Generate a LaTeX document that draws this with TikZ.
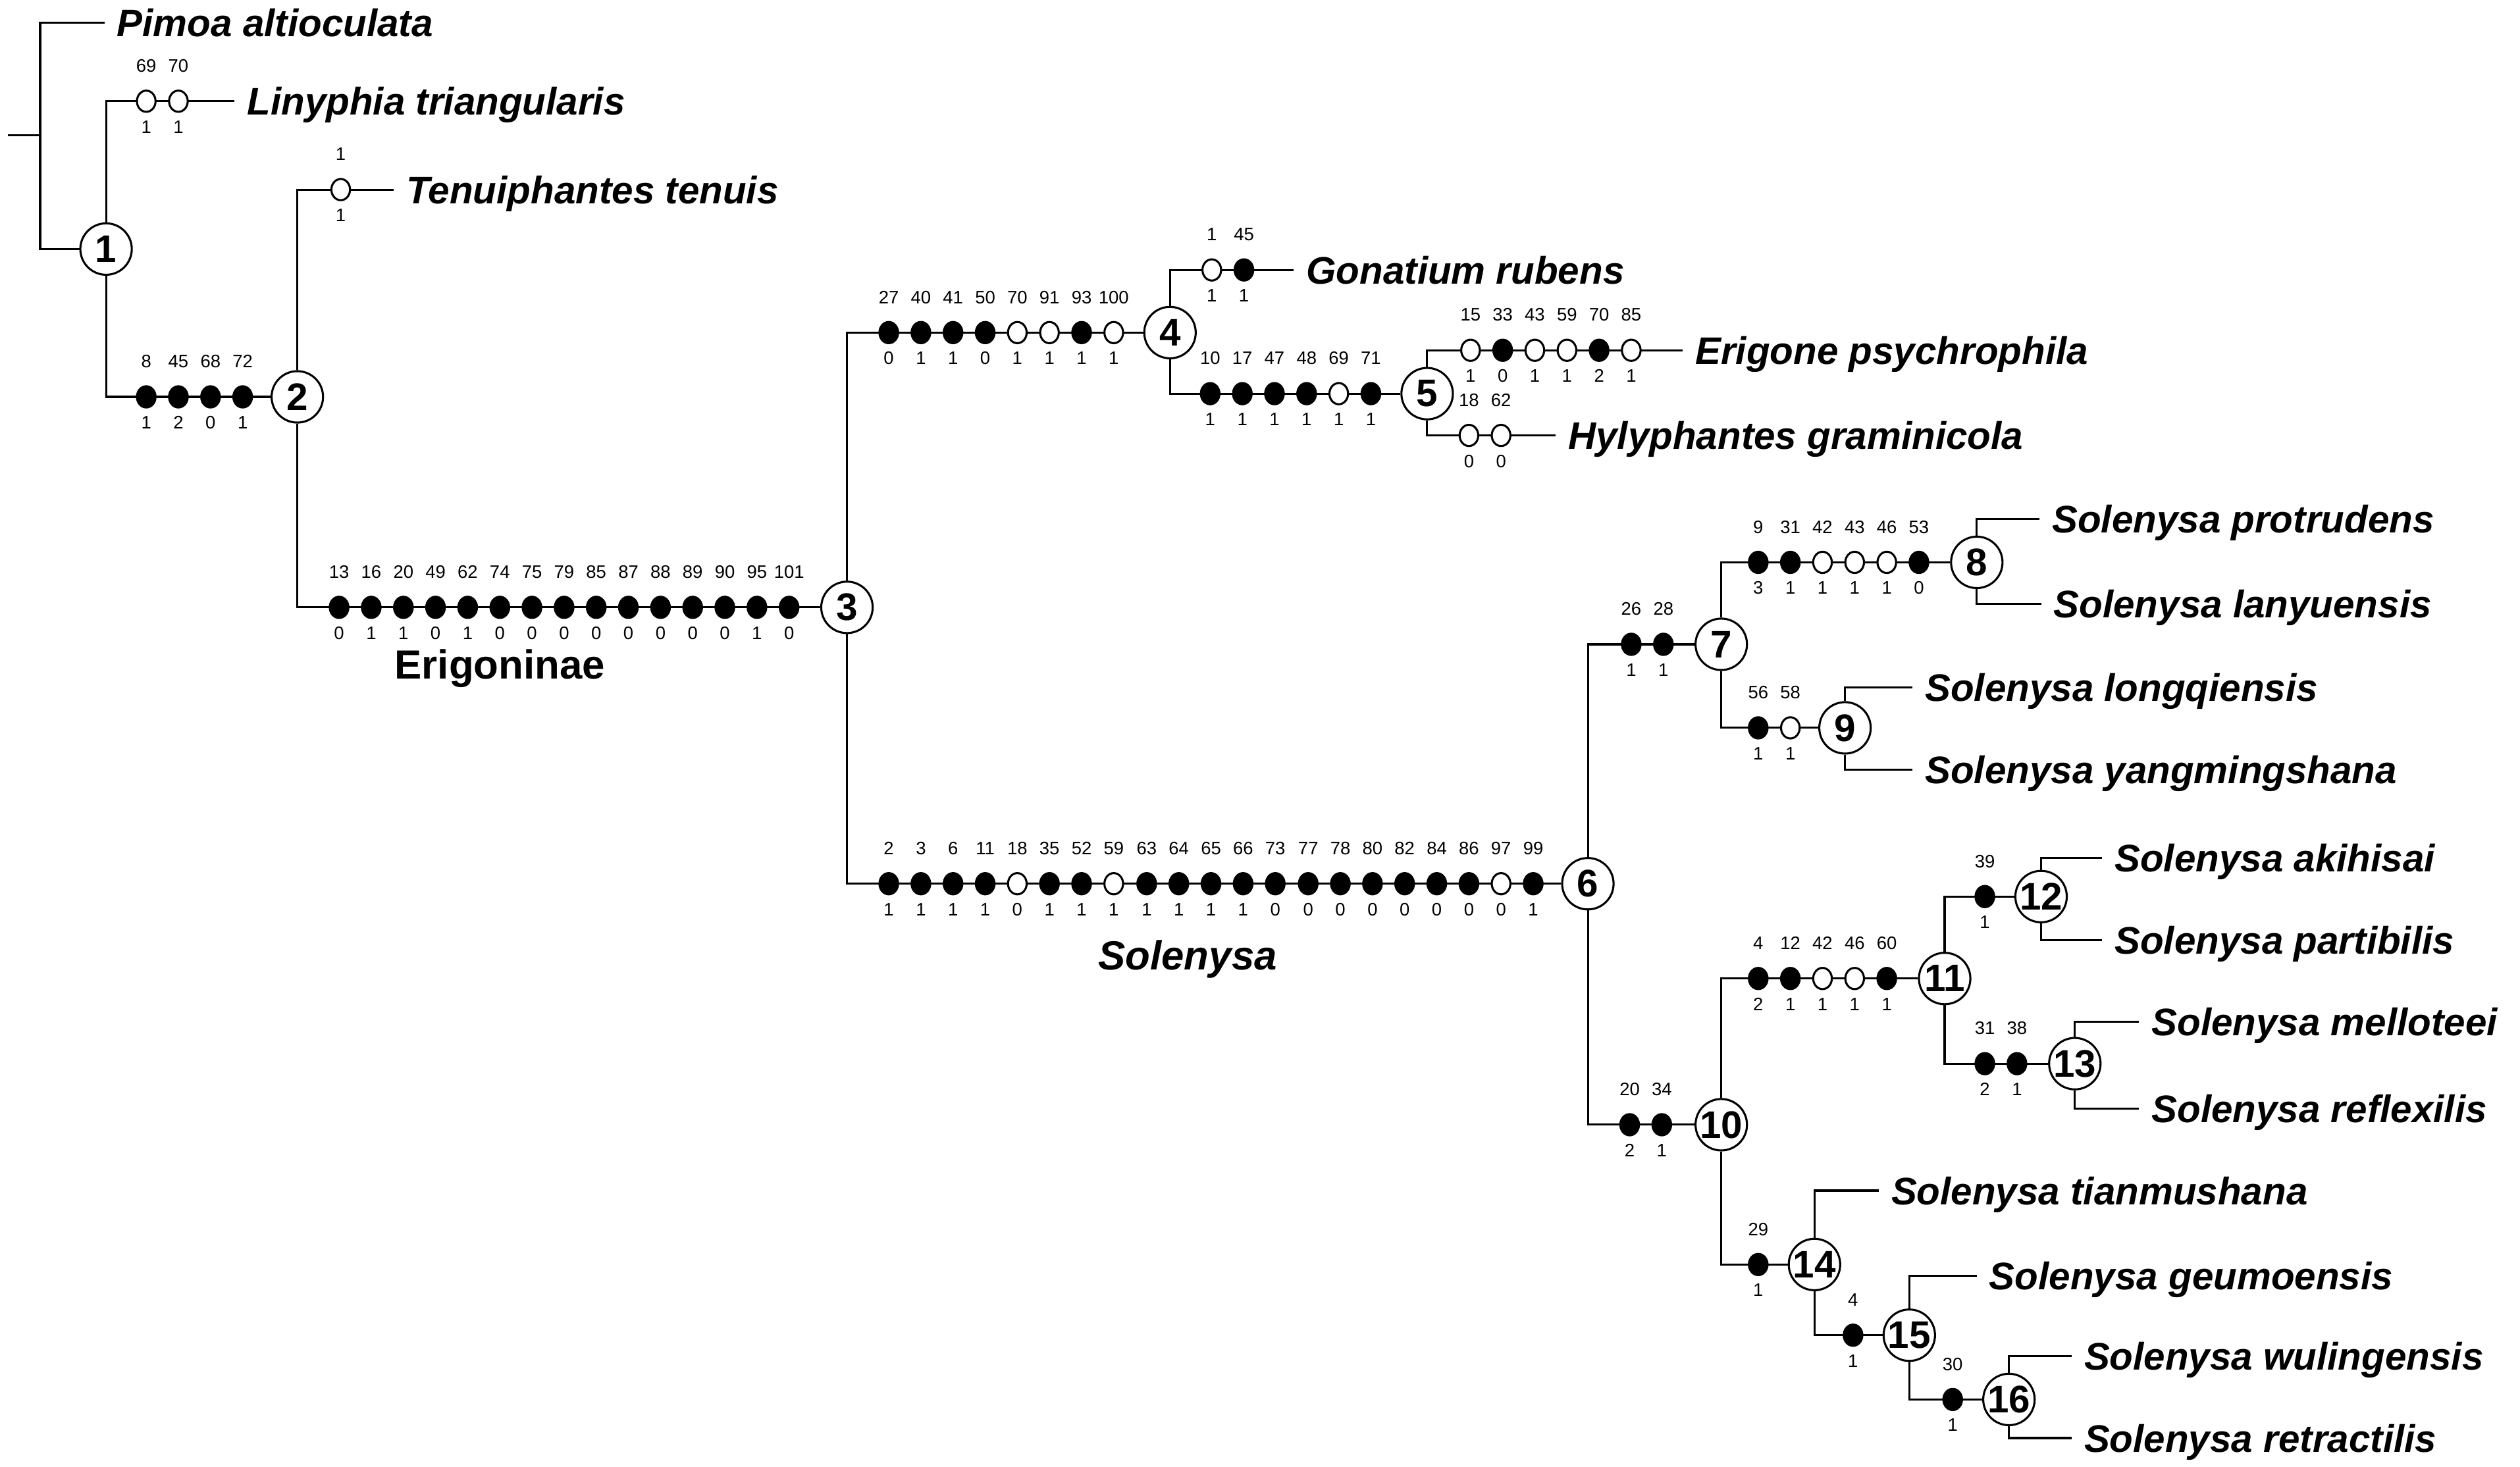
\documentclass[tikz,border=0pt]{standalone}
\usepackage{fontspec}
\setmainfont{Liberation Sans}
\usetikzlibrary{shapes.geometric}

\tikzset{
  clade/.style={circle, draw, fill=white, inner sep=0pt, minimum size=0.8cm,
    font=\fontsize{17}{18}\selectfont\bfseries},
  taxon/.style={anchor=west, inner xsep=0.18cm, inner ysep=0pt, text height=0.43cm,
    text depth=0pt, font=\fontsize{17}{18}\selectfont\bfseries\itshape},
  dot/.style={ellipse, draw, inner sep=0pt, minimum width=0.29cm, minimum height=0.33cm},
  num/.style={inner sep=0pt, font=\fontsize{8}{9}\selectfont},
}

% one row of character changes on a branch: name, y, list x/fill/above/below
\newcommand{\charrow}[3]{%
  \foreach \x/\fil/\abv/\blw [count=\i] in {#3} {
    \node[dot, fill=\fil] (#1\i) at (\x,#2) {};
    \node[num] (#1\i a) at (\x,#2-22) {\abv};
    \node[num] (#1\i b) at (\x,#2+16) {\blw};
  }}

\begin{document}
\begin{tikzpicture}[x=0.025cm, y=-0.025cm, line width=0.9pt]
        \useasboundingbox (0,0) rectangle (1568,913);

        % Clados
        \node[clade] (n1) at (66,155) {1};
        \node[clade] (n2) at (185,247) {2};
        \node[clade] (n3) at (527,378) {3};
        \node[clade] (n4) at (728,207) {4};
        \node[clade] (n5) at (888,245) {5};
        \node[clade] (n6) at (988,550) {6};
        \node[clade] (n7) at (1071,401) {7};
        \node[clade] (n8) at (1230,350) {8};
        \node[clade] (n9) at (1148,453) {9};
        \node[clade] (n10) at (1071,700) {10};
        \node[clade] (n11) at (1210,609) {11};
        \node[clade] (n12) at (1270,558) {12};
        \node[clade] (n13) at (1291,662) {13};
        \node[clade] (n14) at (1129,787) {14};
        \node[clade] (n15) at (1188,831) {15};
        \node[clade] (n16) at (1250,871) {16};

        % Terminais
        \node[taxon] (pimoa) at (65,14) {Pimoa altioculata};
        \node[taxon] (linyphia) at (146,63) {Linyphia triangularis};
        \node[taxon] (tenuis) at (245,118) {Tenuiphantes tenuis};
        \node[taxon] (gonatium) at (805,168) {Gonatium rubens};
        \node[taxon] (erigone) at (1047,218) {Erigone psychrophila};
        \node[taxon] (hylyph) at (968,271) {Hylyphantes graminicola};
        \node[taxon] (protrud) at (1269,323) {Solenysa protrudens};
        \node[taxon] (lanyu) at (1270,376) {Solenysa lanyuensis};
        \node[taxon] (longq) at (1190,428) {Solenysa longqiensis};
        \node[taxon] (yangm) at (1190,479) {Solenysa yangmingshana};
        \node[taxon] (akihi) at (1308,534) {Solenysa akihisai};
        \node[taxon] (partib) at (1308,585) {Solenysa partibilis};
        \node[taxon] (mellot) at (1331,636) {Solenysa melloteei};
        \node[taxon] (reflex) at (1331,690) {Solenysa reflexilis};
        \node[taxon] (tianmu) at (1169,741) {Solenysa tianmushana};
        \node[taxon] (geumo) at (1230,794) {Solenysa geumoensis};
        \node[taxon] (wuling) at (1289,844) {Solenysa wulingensis};
        \node[taxon] (retract) at (1289,895) {Solenysa retractilis};

        % Grupos
        \node[font=\fontsize{18}{20}\selectfont\bfseries] (erigoninae) at (311,416) {Erigoninae};
        \node[font=\fontsize{18}{20}\selectfont\bfseries\itshape] (solenysa) at (739,597) {Solenysa};

        % Raiz
        \coordinate (stub) at (5,84);
        \coordinate (root) at (25,84);
        \draw (stub) -- (root);
        \draw (pimoa.west) -| (root) |- (n1);

        % Ramos
        \draw (n1) |- (linyphia.west);
        \draw (n1) |- (n2);
        \draw (n2) |- (tenuis.west);
        \draw (n2) |- (n3);
        \draw (n3) |- (n4);
        \draw (n3) |- (n6);
        \draw (n4) |- (gonatium.west);
        \draw (n4) |- (n5);
        \draw (n5) |- (erigone.west);
        \draw (n5) |- (hylyph.west);
        \draw (n6) |- (n7);
        \draw (n6) |- (n10);
        \draw (n7) |- (n8);
        \draw (n7) |- (n9);
        \draw (n8) |- (protrud.west);
        \draw (n8) |- (lanyu.west);
        \draw (n9) |- (longq.west);
        \draw (n9) |- (yangm.west);
        \draw (n10) |- (n11);
        \draw (n10) |- (n14);
        \draw (n11) |- (n12);
        \draw (n11) |- (n13);
        \draw (n12) |- (akihi.west);
        \draw (n12) |- (partib.west);
        \draw (n13) |- (mellot.west);
        \draw (n13) |- (reflex.west);
        \draw (n14) |- (tianmu.west);
        \draw (n14) |- (n15);
        \draw (n15) |- (geumo.west);
        \draw (n15) |- (n16);
        \draw (n16) |- (wuling.west);
        \draw (n16) |- (retract.west);

        % Caracteres
        \charrow{lin}{63}{91/white/69/1, 111/white/70/1}
        \charrow{a}{247}{91/black/8/1, 111/black/45/2, 131/black/68/0, 151/black/72/1}
        \charrow{ten}{118}{212/white/1/1}
        \charrow{b}{378}{211/black/13/0, 231/black/16/1, 251/black/20/1, 271/black/49/0,
          291/black/62/1, 311/black/74/0, 331/black/75/0, 351/black/79/0, 371/black/85/0,
          391/black/87/0, 411/black/88/0, 431/black/89/0, 451/black/90/0, 471/black/95/1,
          491/black/101/0}
        \charrow{c}{207}{553/black/27/0, 573/black/40/1, 593/black/41/1, 613/black/50/0,
          633/white/70/1, 653/white/91/1, 673/black/93/1, 693/white/100/1}
        \charrow{gon}{168}{754/white/1/1, 774/black/45/1}
        \charrow{d}{245}{753/black/10/1, 773/black/17/1, 793/black/47/1, 813/black/48/1,
          833/white/69/1, 853/black/71/1}
        \charrow{eri}{218}{915/white/15/1, 935/black/33/0, 955/white/43/1, 975/white/59/1,
          995/black/70/2, 1015/white/85/1}
        \charrow{hyl}{271}{914/white/18/0, 934/white/62/0}
        \charrow{e}{550}{553/black/2/1, 573/black/3/1, 593/black/6/1, 613/black/11/1,
          633/white/18/0, 653/black/35/1, 673/black/52/1, 693/white/59/1, 713.5/black/63/1,
          733.5/black/64/1, 753.5/black/65/1, 773.5/black/66/1, 793.5/black/73/0,
          814/black/77/0, 834/black/78/0, 854/black/80/0, 874/black/82/0, 894/black/84/0,
          914/black/86/0, 934/white/97/0, 954/black/99/1}
        \charrow{f}{401}{1015/black/26/1, 1035/black/28/1}
        \charrow{g}{350}{1094/black/9/3, 1114/black/31/1, 1134/white/42/1, 1154/white/43/1,
          1174/white/46/1, 1194/black/53/0}
        \charrow{h}{453}{1094/black/56/1, 1114/white/58/1}
        \charrow{k}{700}{1014/black/20/2, 1034/black/34/1}
        \charrow{m}{609}{1094/black/4/2, 1114/black/12/1, 1134/white/42/1, 1154/white/46/1,
          1174/black/60/1}
        \charrow{p}{558}{1235/black/39/1}
        \charrow{q}{662}{1235/black/31/2, 1255/black/38/1}
        \charrow{r}{787}{1094/black/29/1}
        \charrow{s}{831}{1153/black/4/1}
        \charrow{t}{871}{1215/black/30/1}

    \end{tikzpicture}
\end{document}
